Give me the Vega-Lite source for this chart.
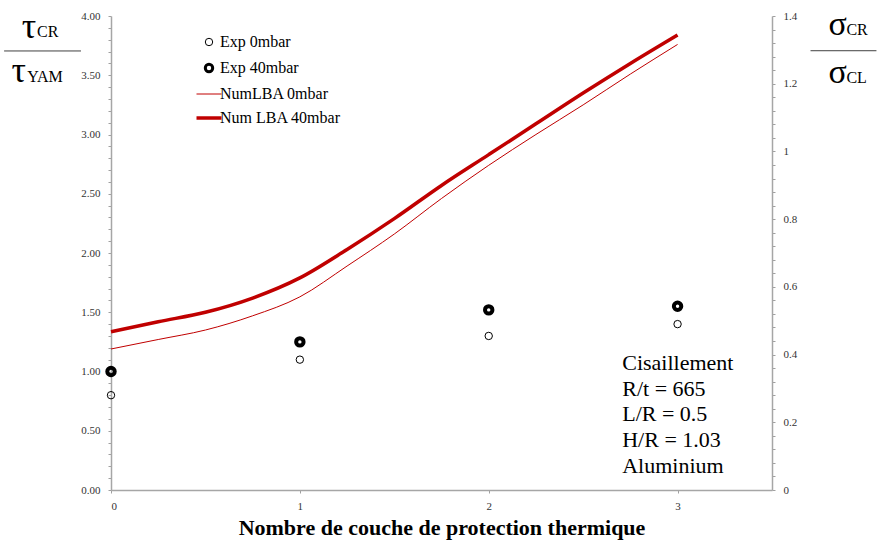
{
  "$schema": "https://vega.github.io/schema/vega-lite/v6.json",
  "width": 661,
  "height": 474,
  "autosize": {"type": "none"},
  "padding": {"left": 111, "top": 16, "right": 105, "bottom": 53},
  "background": "white",
  "config": {
    "view": {"stroke": null},
    "font": "Liberation Serif",
    "axis": {
      "domainColor": "#a6a6a6",
      "domainWidth": 1.5,
      "tickColor": "#a0a0a0",
      "tickSize": 3,
      "grid": false,
      "labelOverlap": false,
      "labelFont": "Liberation Serif",
      "labelFontSize": 11,
      "labelColor": "#333333"
    },
    "legend": {
      "orient": "none",
      "legendX": 90,
      "legendY": 18,
      "padding": 0,
      "labelFont": "Liberation Serif",
      "labelFontSize": 16,
      "labelColor": "black",
      "rowPadding": 8,
      "labelOffset": 3,
      "symbolSize": 625
    }
  },
  "datasets": {
    "exp": [
      {"couches": 0, "ratio": 0.80, "serie": "Exp 0mbar"},
      {"couches": 1, "ratio": 1.10, "serie": "Exp 0mbar"},
      {"couches": 2, "ratio": 1.30, "serie": "Exp 0mbar"},
      {"couches": 3, "ratio": 1.40, "serie": "Exp 0mbar"},
      {"couches": 0, "ratio": 1.00, "serie": "Exp 40mbar"},
      {"couches": 1, "ratio": 1.25, "serie": "Exp 40mbar"},
      {"couches": 2, "ratio": 1.52, "serie": "Exp 40mbar"},
      {"couches": 3, "ratio": 1.55, "serie": "Exp 40mbar"}
    ],
    "num": [
      {"couches": 0, "ratio": 1.19, "serie": "NumLBA 0mbar"},
      {"couches": 0.25, "ratio": 1.27, "serie": "NumLBA 0mbar"},
      {"couches": 0.5, "ratio": 1.35, "serie": "NumLBA 0mbar"},
      {"couches": 0.75, "ratio": 1.47, "serie": "NumLBA 0mbar"},
      {"couches": 1, "ratio": 1.63, "serie": "NumLBA 0mbar"},
      {"couches": 1.25, "ratio": 1.89, "serie": "NumLBA 0mbar"},
      {"couches": 1.5, "ratio": 2.16, "serie": "NumLBA 0mbar"},
      {"couches": 1.75, "ratio": 2.46, "serie": "NumLBA 0mbar"},
      {"couches": 2, "ratio": 2.74, "serie": "NumLBA 0mbar"},
      {"couches": 2.25, "ratio": 3.00, "serie": "NumLBA 0mbar"},
      {"couches": 2.5, "ratio": 3.25, "serie": "NumLBA 0mbar"},
      {"couches": 2.75, "ratio": 3.51, "serie": "NumLBA 0mbar"},
      {"couches": 3, "ratio": 3.76, "serie": "NumLBA 0mbar"},
      {"couches": 0, "ratio": 1.335, "serie": "Num LBA 40mbar"},
      {"couches": 0.25, "ratio": 1.42, "serie": "Num LBA 40mbar"},
      {"couches": 0.5, "ratio": 1.50, "serie": "Num LBA 40mbar"},
      {"couches": 0.75, "ratio": 1.62, "serie": "Num LBA 40mbar"},
      {"couches": 1, "ratio": 1.79, "serie": "Num LBA 40mbar"},
      {"couches": 1.25, "ratio": 2.03, "serie": "Num LBA 40mbar"},
      {"couches": 1.5, "ratio": 2.29, "serie": "Num LBA 40mbar"},
      {"couches": 1.75, "ratio": 2.57, "serie": "Num LBA 40mbar"},
      {"couches": 2, "ratio": 2.83, "serie": "Num LBA 40mbar"},
      {"couches": 2.25, "ratio": 3.09, "serie": "Num LBA 40mbar"},
      {"couches": 2.5, "ratio": 3.35, "serie": "Num LBA 40mbar"},
      {"couches": 2.75, "ratio": 3.60, "serie": "Num LBA 40mbar"},
      {"couches": 3, "ratio": 3.84, "serie": "Num LBA 40mbar"}
    ]
  },
  "layer": [
    {
      "layer": [
        {
          "data": {"name": "num"},
          "mark": {"type": "line", "interpolate": "monotone"},
          "encoding": {
            "x": {
              "field": "couches", "type": "quantitative",
              "scale": {"domain": [0, 3.5], "nice": false},
              "axis": {
                "values": [0, 1, 2, 3],
                "format": "d",
                "labelPadding": 7,
                "title": "Nombre de couche de protection thermique",
                "titleFont": "Liberation Serif",
                "titleFontSize": 22,
                "titleFontWeight": "bold",
                "titleColor": "black",
                "titlePadding": 6
              }
            },
            "y": {
              "field": "ratio", "type": "quantitative",
              "scale": {"domain": [0, 4], "nice": false},
              "axis": {
                "title": null,
                "labelOverlap": false,
                "values": [0,0.1,0.2,0.3,0.4,0.5,0.6,0.7,0.8,0.9,1,1.1,1.2,1.3,1.4,1.5,1.6,1.7,1.8,1.9,2,2.1,2.2,2.3,2.4,2.5,2.6,2.7,2.8,2.9,3,3.1,3.2,3.3,3.4,3.5,3.6,3.7,3.8,3.9,4],
                "labelExpr": "abs(datum.value*2 - round(datum.value*2)) < 0.001 ? format(datum.value, '.2f') : ''",
                "labelPadding": 8
              }
            },
            "color": {
              "field": "serie", "type": "nominal",
              "scale": {
                "domain": ["Exp 0mbar", "Exp 40mbar", "NumLBA 0mbar", "Num LBA 40mbar"],
                "range": ["black", "black", "#c00000", "#c00000"]
              },
              "legend": {
                "title": null,
                "encode": {
                  "symbols": {
                    "update": {
                      "shape": {"signal": "indexof(['NumLBA 0mbar', 'Num LBA 40mbar'], datum.value) >= 0 ? 'stroke' : 'circle'"},
                      "size": {"signal": "indexof(['NumLBA 0mbar', 'Num LBA 40mbar'], datum.value) >= 0 ? 625 : 55"},
                      "strokeWidth": {"signal": "datum.value == 'Exp 40mbar' ? 3 : datum.value == 'Num LBA 40mbar' ? 3.5 : 1"},
                      "fill": {"value": "transparent"},
                      "opacity": {"value": 1}
                    }
                  }
                }
              }
            },
            "strokeWidth": {
              "field": "serie", "type": "nominal",
              "scale": {
                "type": "ordinal",
                "domain": ["Exp 0mbar", "Exp 40mbar", "NumLBA 0mbar", "Num LBA 40mbar"],
                "range": [1, 3, 1, 3.5]
              },
              "legend": null
            }
          }
        },
        {
          "data": {"name": "exp"},
          "mark": {"type": "point", "filled": false, "opacity": 1, "size": 55, "shape": "circle"},
          "encoding": {
            "x": {
              "field": "couches", "type": "quantitative",
              "scale": {"domain": [0, 3.5], "nice": false},
              "axis": {
                "values": [0, 1, 2, 3],
                "format": "d",
                "labelPadding": 7,
                "title": "Nombre de couche de protection thermique",
                "titleFont": "Liberation Serif",
                "titleFontSize": 22,
                "titleFontWeight": "bold",
                "titleColor": "black",
                "titlePadding": 6
              }
            },
            "y": {
              "field": "ratio", "type": "quantitative",
              "scale": {"domain": [0, 4], "nice": false},
              "axis": {
                "title": null,
                "labelOverlap": false,
                "values": [0,0.1,0.2,0.3,0.4,0.5,0.6,0.7,0.8,0.9,1,1.1,1.2,1.3,1.4,1.5,1.6,1.7,1.8,1.9,2,2.1,2.2,2.3,2.4,2.5,2.6,2.7,2.8,2.9,3,3.1,3.2,3.3,3.4,3.5,3.6,3.7,3.8,3.9,4],
                "labelExpr": "abs(datum.value*2 - round(datum.value*2)) < 0.001 ? format(datum.value, '.2f') : ''",
                "labelPadding": 8
              }
            },
            "color": {"field": "serie", "type": "nominal"},
            "strokeWidth": {"field": "serie", "type": "nominal", "legend": null}
          }
        }
      ]
    },
    {
      "data": {"values": [{}]},
      "mark": {"type": "rule", "opacity": 0},
      "encoding": {
        "y": {
          "datum": 0, "type": "quantitative",
          "scale": {"domain": [0, 1.4], "nice": false},
          "axis": {
            "orient": "right",
            "title": null,
            "labelOverlap": false,
            "values": [0,0.04,0.08,0.12,0.16,0.2,0.24,0.28,0.32,0.36,0.4,0.44,0.48,0.52,0.56,0.6,0.64,0.68,0.72,0.76,0.8,0.84,0.88,0.92,0.96,1,1.04,1.08,1.12,1.16,1.2,1.24,1.28,1.32,1.36,1.4],
            "labelExpr": "abs(datum.value*5 - round(datum.value*5)) < 0.001 ? format(datum.value, '.1~f') : ''",
            "labelPadding": 8
          }
        }
      }
    },
    {
      "data": {"values": [{}]},
      "mark": {"type": "text", "text": "Cisaillement\nR/t = 665\nL/R = 0.5\nH/R = 1.03\nAluminium", "lineBreak": "\n", "lineHeight": 25.7, "fontSize": 22, "font": "Liberation Serif", "align": "left", "baseline": "alphabetic", "color": "black"},
      "encoding": {"x": {"datum": 2.707, "type": "quantitative", "scale": {"domain": [0, 3.5], "nice": false}, "axis": null}, "y": {"datum": 1.013, "type": "quantitative", "scale": {"domain": [0, 4], "nice": false}, "axis": null}}
    },
    {
      "data": {"values": [{}]},
      "mark": {"type": "text", "text": "τ", "fontSize": 36, "font": "Liberation Serif", "align": "center", "baseline": "alphabetic", "color": "black"},
      "encoding": {"x": {"datum": -0.434, "type": "quantitative", "scale": {"domain": [0, 3.5], "nice": false}, "axis": null}, "y": {"datum": 3.814, "type": "quantitative", "scale": {"domain": [0, 4], "nice": false}, "axis": null}}
    },
    {
      "data": {"values": [{}]},
      "mark": {"type": "text", "text": "CR", "fontSize": 16, "font": "Liberation Serif", "align": "left", "baseline": "alphabetic", "color": "black"},
      "encoding": {"x": {"datum": -0.392, "type": "quantitative", "scale": {"domain": [0, 3.5], "nice": false}, "axis": null}, "y": {"datum": 3.823, "type": "quantitative", "scale": {"domain": [0, 4], "nice": false}, "axis": null}}
    },
    {
      "data": {"values": [{}]},
      "mark": {"type": "text", "text": "τ", "fontSize": 36, "font": "Liberation Serif", "align": "center", "baseline": "alphabetic", "color": "black"},
      "encoding": {"x": {"datum": -0.489, "type": "quantitative", "scale": {"domain": [0, 3.5], "nice": false}, "axis": null}, "y": {"datum": 3.443, "type": "quantitative", "scale": {"domain": [0, 4], "nice": false}, "axis": null}}
    },
    {
      "data": {"values": [{}]},
      "mark": {"type": "text", "text": "YAM", "fontSize": 16, "font": "Liberation Serif", "align": "left", "baseline": "alphabetic", "color": "black"},
      "encoding": {"x": {"datum": -0.444, "type": "quantitative", "scale": {"domain": [0, 3.5], "nice": false}, "axis": null}, "y": {"datum": 3.443, "type": "quantitative", "scale": {"domain": [0, 4], "nice": false}, "axis": null}}
    },
    {
      "data": {"values": [{}]},
      "mark": {"type": "rule", "color": "#404040", "strokeWidth": 1},
      "encoding": {"x": {"datum": -0.566, "type": "quantitative", "scale": {"domain": [0, 3.5], "nice": false}, "axis": null}, "x2": {"datum": -0.159}, "y": {"datum": 3.705, "type": "quantitative", "scale": {"domain": [0, 4], "nice": false}, "axis": null}}
    },
    {
      "data": {"values": [{}]},
      "mark": {"type": "text", "text": "σ", "fontSize": 34, "font": "Liberation Serif", "align": "center", "baseline": "alphabetic", "color": "black"},
      "encoding": {"x": {"datum": 3.847, "type": "quantitative", "scale": {"domain": [0, 3.5], "nice": false}, "axis": null}, "y": {"datum": 3.84, "type": "quantitative", "scale": {"domain": [0, 4], "nice": false}, "axis": null}}
    },
    {
      "data": {"values": [{}]},
      "mark": {"type": "text", "text": "CR", "fontSize": 16, "font": "Liberation Serif", "align": "left", "baseline": "alphabetic", "color": "black"},
      "encoding": {"x": {"datum": 3.894, "type": "quantitative", "scale": {"domain": [0, 3.5], "nice": false}, "axis": null}, "y": {"datum": 3.84, "type": "quantitative", "scale": {"domain": [0, 4], "nice": false}, "axis": null}}
    },
    {
      "data": {"values": [{}]},
      "mark": {"type": "text", "text": "σ", "fontSize": 34, "font": "Liberation Serif", "align": "center", "baseline": "alphabetic", "color": "black"},
      "encoding": {"x": {"datum": 3.847, "type": "quantitative", "scale": {"domain": [0, 3.5], "nice": false}, "axis": null}, "y": {"datum": 3.435, "type": "quantitative", "scale": {"domain": [0, 4], "nice": false}, "axis": null}}
    },
    {
      "data": {"values": [{}]},
      "mark": {"type": "text", "text": "CL", "fontSize": 16, "font": "Liberation Serif", "align": "left", "baseline": "alphabetic", "color": "black"},
      "encoding": {"x": {"datum": 3.894, "type": "quantitative", "scale": {"domain": [0, 3.5], "nice": false}, "axis": null}, "y": {"datum": 3.435, "type": "quantitative", "scale": {"domain": [0, 4], "nice": false}, "axis": null}}
    },
    {
      "data": {"values": [{}]},
      "mark": {"type": "rule", "color": "#404040", "strokeWidth": 1},
      "encoding": {"x": {"datum": 3.704, "type": "quantitative", "scale": {"domain": [0, 3.5], "nice": false}, "axis": null}, "x2": {"datum": 4.053}, "y": {"datum": 3.707, "type": "quantitative", "scale": {"domain": [0, 4], "nice": false}, "axis": null}}
    }
  ],
  "resolve": {"scale": {"x": "independent", "y": "independent"}, "axis": {"x": "independent", "y": "independent"}}
}
